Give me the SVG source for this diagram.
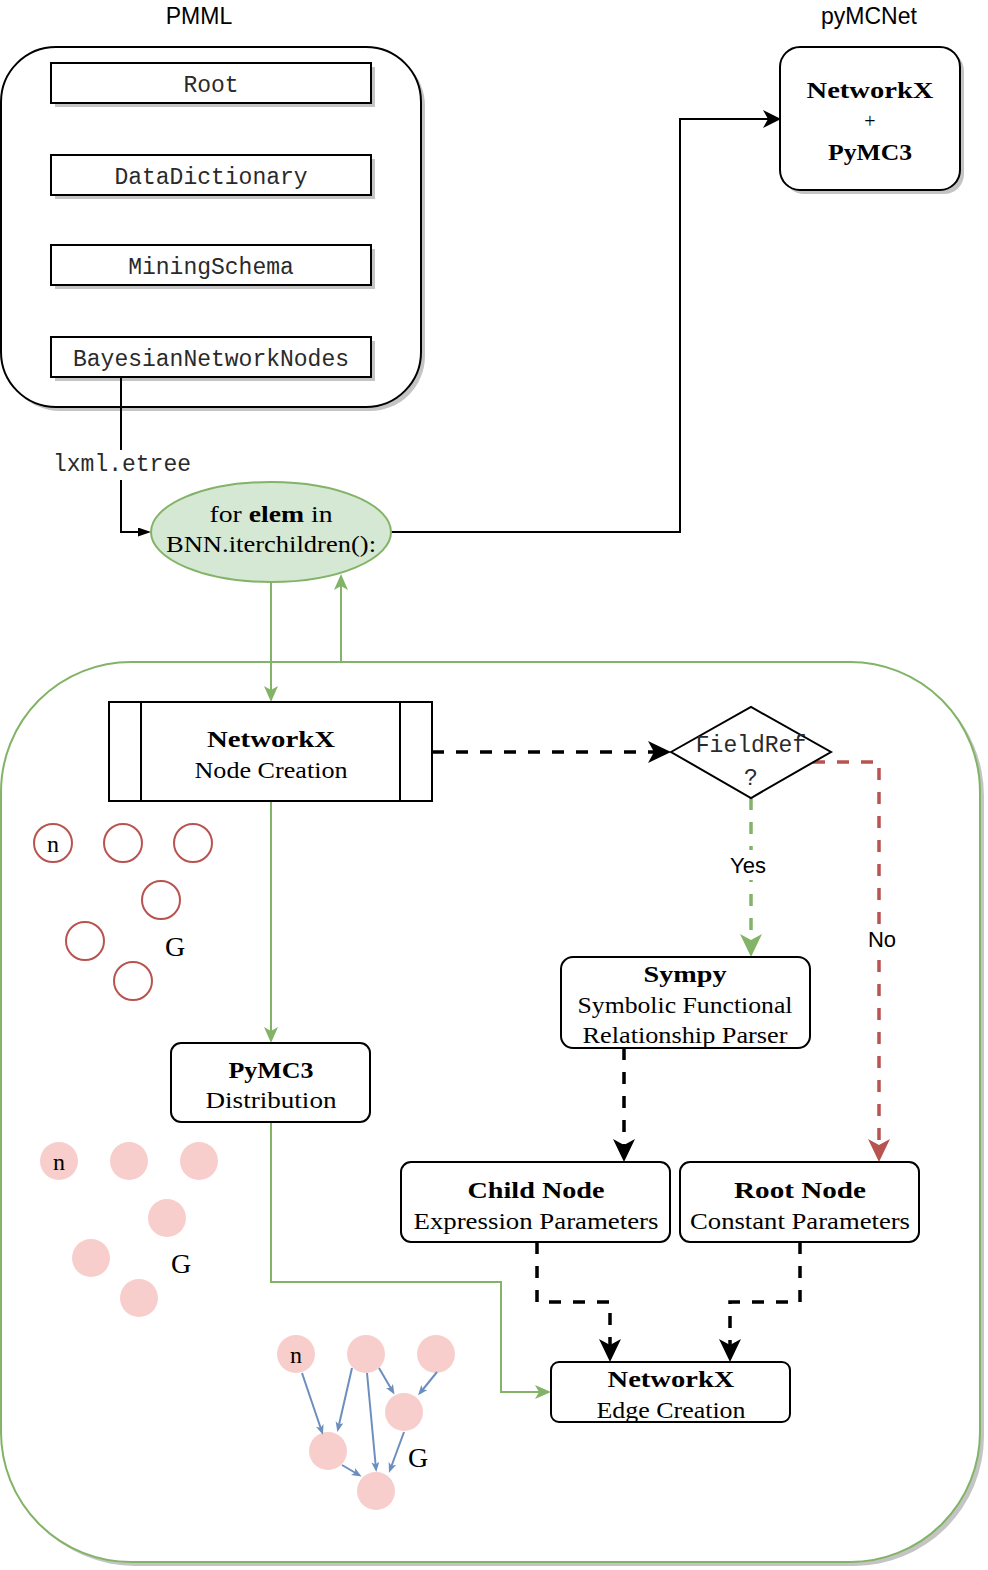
<svg xmlns="http://www.w3.org/2000/svg" width="988" height="1570" viewBox="0 0 988 1570">
<style>
.mono{font-family:"Liberation Mono","Courier New",monospace;font-size:23px;fill:#2a2a2a}
.serif{font-family:"Liberation Serif","Times New Roman",serif;font-size:24px;fill:#000}
.big{font-size:28px}
.plus{font-size:20px}
.b{font-weight:bold}
.sans{font-family:"Liberation Sans",Arial,sans-serif;fill:#000}
.box{fill:#fff;stroke:#000;stroke-width:2}
.shadow{fill:#c4c4c4}
.dash{fill:none;stroke-width:3.5;stroke-dasharray:12 12}
.solid{fill:none;stroke-width:2}
.red{fill:none;stroke:#b85450;stroke-width:2}
.pink{fill:#f8cecc;stroke:none}
.blue{stroke:#6c8ebf;stroke-width:2;fill:none}
</style>
<defs>
<marker id="aBlk" markerUnits="userSpaceOnUse" markerWidth="20" markerHeight="20" refX="13" refY="9" orient="auto"><path d="M0,0 L18,9 L0,18 L5,9 z" fill="#000"/></marker>
<marker id="aBlkSm" markerUnits="userSpaceOnUse" markerWidth="14" markerHeight="10" refX="10" refY="4.5" orient="auto"><path d="M0,0 L13,4.5 L0,9 z" fill="#000"/></marker>
<marker id="aGrn" markerUnits="userSpaceOnUse" markerWidth="18" markerHeight="16" refX="11" refY="7" orient="auto"><path d="M0,0 L16,7 L0,14 L4,7 z" fill="#82b366"/></marker>
<marker id="aDBlk" markerUnits="userSpaceOnUse" markerWidth="24" markerHeight="24" refX="15" refY="11" orient="auto"><path d="M0,0 L23,11 L0,22 L6,11 z" fill="#000"/></marker>
<marker id="aDGrn" markerUnits="userSpaceOnUse" markerWidth="24" markerHeight="24" refX="15" refY="11" orient="auto"><path d="M0,0 L23,11 L0,22 L6,11 z" fill="#82b366"/></marker>
<marker id="aDRed" markerUnits="userSpaceOnUse" markerWidth="24" markerHeight="24" refX="15" refY="11" orient="auto"><path d="M0,0 L23,11 L0,22 L6,11 z" fill="#b85450"/></marker>
<marker id="aBlue" markerUnits="userSpaceOnUse" markerWidth="12" markerHeight="10" refX="7" refY="4" orient="auto"><path d="M0,0 L10,4 L0,8 L2.5,4 z" fill="#6c8ebf"/></marker>
</defs>
<rect width="988" height="1570" fill="#fff"/>

<!-- titles -->
<text class="sans" x="199" y="24" font-size="23" text-anchor="middle">PMML</text>
<text class="sans" x="869" y="24" font-size="23" text-anchor="middle">pyMCNet</text>

<!-- PMML container -->
<g id="pmml">
<rect class="shadow" x="5" y="51" width="420" height="360" rx="55"/>
<rect class="box" x="1" y="47" width="420" height="360" rx="55"/>
</g>
<g id="root">
<rect class="shadow" x="55" y="67" width="320" height="40"/>
<rect class="box" x="51" y="63" width="320" height="40"/>
<text class="mono" x="211" y="92" text-anchor="middle">Root</text>
</g>
<g id="datadictionary">
<rect class="shadow" x="55" y="159" width="320" height="40"/>
<rect class="box" x="51" y="155" width="320" height="40"/>
<text class="mono" x="211" y="184" text-anchor="middle">DataDictionary</text>
</g>
<g id="miningschema">
<rect class="shadow" x="55" y="249" width="320" height="40"/>
<rect class="box" x="51" y="245" width="320" height="40"/>
<text class="mono" x="211" y="274" text-anchor="middle">MiningSchema</text>
</g>
<g id="bnn">
<rect class="shadow" x="55" y="341" width="320" height="40"/>
<rect class="box" x="51" y="337" width="320" height="40"/>
<text class="mono" x="211" y="366" text-anchor="middle">BayesianNetworkNodes</text>
</g>

<!-- pyMCNet box -->
<g id="pymcnet">
<rect class="shadow" x="784" y="51" width="180" height="143" rx="20"/>
<rect class="box" x="780" y="47" width="180" height="143" rx="20"/>
<text class="serif b" x="870" y="98" text-anchor="middle" textLength="127" lengthAdjust="spacingAndGlyphs">NetworkX</text>
<text class="serif plus" x="870" y="128" text-anchor="middle">+</text>
<text class="serif b" x="870" y="160" text-anchor="middle" textLength="84" lengthAdjust="spacingAndGlyphs">PyMC3</text>
</g>

<!-- green container -->
<g id="container">
<rect class="shadow" x="5" y="666" width="979" height="900" rx="130"/>
<rect x="1" y="662" width="979" height="900" rx="130" fill="#fff" stroke="#82b366" stroke-width="2"/>
</g>

<!-- connectors -->
<g id="connectors">
<path class="solid" stroke="#000" d="M121,377 V532 H148" marker-end="url(#aBlkSm)"/>
<path class="solid" stroke="#000" d="M391,532 H680 V119 H776" marker-end="url(#aBlk)"/>
<path class="solid" stroke="#82b366" d="M271,583 V697" marker-end="url(#aGrn)"/>
<path class="solid" stroke="#82b366" d="M341,662 V579" marker-end="url(#aGrn)"/>
<path class="solid" stroke="#82b366" d="M271,801 V1038" marker-end="url(#aGrn)"/>
<path class="solid" stroke="#82b366" d="M271,1122 V1282 H501 V1392 H546" marker-end="url(#aGrn)"/>
<path class="dash" stroke="#000" d="M432,752 H663" marker-end="url(#aDBlk)"/>
<path class="dash" stroke="#82b366" d="M751,798 V949" marker-end="url(#aDGrn)"/>
<path class="dash" stroke="#b85450" d="M813,762 H879 V1154" marker-end="url(#aDRed)"/>
<path class="dash" stroke="#000" d="M624,1048 V1154" marker-end="url(#aDBlk)"/>
<path class="dash" stroke="#000" d="M537,1242 V1302 H610 V1354" marker-end="url(#aDBlk)"/>
<path class="dash" stroke="#000" d="M800,1242 V1302 H730 V1354" marker-end="url(#aDBlk)"/>
<rect x="52" y="450" width="142" height="30" fill="#fff"/>
<text class="mono" x="122" y="471" text-anchor="middle">lxml.etree</text>
<rect x="728" y="850" width="42" height="30" fill="#fff"/>
<text class="sans" x="748" y="873" font-size="22" text-anchor="middle">Yes</text>
<rect x="866" y="925" width="32" height="30" fill="#fff"/>
<text class="sans" x="882" y="947" font-size="22" text-anchor="middle">No</text>
</g>

<!-- loop ellipse -->
<g id="loop">
<ellipse cx="271" cy="532" rx="120" ry="50" fill="#d5e8d4" stroke="#82b366" stroke-width="2"/>
<text class="serif" x="271" y="522" text-anchor="middle" textLength="123" lengthAdjust="spacingAndGlyphs">for <tspan font-weight="bold">elem</tspan> in</text>
<text class="serif" x="271" y="552" text-anchor="middle" textLength="210" lengthAdjust="spacingAndGlyphs">BNN.iterchildren():</text>
</g>

<!-- Node creation -->
<g id="nodecreation">
<rect class="box" x="109" y="702" width="323" height="99"/>
<line x1="141" y1="702" x2="141" y2="801" stroke="#000" stroke-width="2"/>
<line x1="400" y1="702" x2="400" y2="801" stroke="#000" stroke-width="2"/>
<text class="serif b" x="271" y="747" text-anchor="middle" textLength="128" lengthAdjust="spacingAndGlyphs">NetworkX</text>
<text class="serif" x="271" y="778" text-anchor="middle" textLength="153" lengthAdjust="spacingAndGlyphs">Node Creation</text>
</g>

<!-- decision -->
<g id="fieldref">
<polygon points="671,752 751,707 831,752 751,798" fill="#fff" stroke="#000" stroke-width="2"/>
<text class="mono" x="751" y="752" text-anchor="middle">FieldRef</text>
<text class="mono" x="751" y="785" text-anchor="middle">?</text>
</g>

<!-- Sympy -->
<g id="sympy">
<rect class="box" x="561" y="957" width="249" height="91" rx="12"/>
<text class="serif b" x="685" y="982" text-anchor="middle" textLength="83" lengthAdjust="spacingAndGlyphs">Sympy</text>
<text class="serif" x="685" y="1013" text-anchor="middle" textLength="215" lengthAdjust="spacingAndGlyphs">Symbolic Functional</text>
<text class="serif" x="685" y="1043" text-anchor="middle" textLength="205" lengthAdjust="spacingAndGlyphs">Relationship Parser</text>
</g>

<!-- PyMC3 distribution -->
<g id="pymc3dist">
<rect class="box" x="171" y="1043" width="199" height="79" rx="10"/>
<text class="serif b" x="271" y="1078" text-anchor="middle" textLength="85" lengthAdjust="spacingAndGlyphs">PyMC3</text>
<text class="serif" x="271" y="1108" text-anchor="middle" textLength="131" lengthAdjust="spacingAndGlyphs">Distribution</text>
</g>

<!-- Child node -->
<g id="childnode">
<rect class="box" x="401" y="1162" width="269" height="80" rx="10"/>
<text class="serif b" x="536" y="1198" text-anchor="middle" textLength="137" lengthAdjust="spacingAndGlyphs">Child Node</text>
<text class="serif" x="536" y="1229" text-anchor="middle" textLength="245" lengthAdjust="spacingAndGlyphs">Expression Parameters</text>
</g>

<!-- Root node -->
<g id="rootnode">
<rect class="box" x="680" y="1162" width="239" height="80" rx="10"/>
<text class="serif b" x="800" y="1198" text-anchor="middle" textLength="132" lengthAdjust="spacingAndGlyphs">Root Node</text>
<text class="serif" x="800" y="1229" text-anchor="middle" textLength="220" lengthAdjust="spacingAndGlyphs">Constant Parameters</text>
</g>

<!-- Edge creation -->
<g id="edgecreation">
<rect class="box" x="551" y="1362" width="239" height="60" rx="8"/>
<text class="serif b" x="671" y="1387" text-anchor="middle" textLength="127" lengthAdjust="spacingAndGlyphs">NetworkX</text>
<text class="serif" x="671" y="1418" text-anchor="middle" textLength="149" lengthAdjust="spacingAndGlyphs">Edge Creation</text>
</g>

<!-- empty graph G (outline) -->
<g id="graph-empty">
<circle class="red" cx="53" cy="843" r="19"/>
<circle class="red" cx="123" cy="843" r="19"/>
<circle class="red" cx="193" cy="843" r="19"/>
<circle class="red" cx="161" cy="900" r="19"/>
<circle class="red" cx="85" cy="941" r="19"/>
<circle class="red" cx="133" cy="981" r="19"/>
<text class="serif" x="53" y="852" text-anchor="middle">n</text>
<text class="serif big" x="175" y="956" text-anchor="middle">G</text>
</g>

<!-- graph with distributions -->
<g id="graph-dist">
<circle class="pink" cx="59" cy="1161" r="19"/>
<circle class="pink" cx="129" cy="1161" r="19"/>
<circle class="pink" cx="199" cy="1161" r="19"/>
<circle class="pink" cx="167" cy="1218" r="19"/>
<circle class="pink" cx="91" cy="1258" r="19"/>
<circle class="pink" cx="139" cy="1298" r="19"/>
<text class="serif" x="59" y="1170" text-anchor="middle">n</text>
<text class="serif big" x="181" y="1273" text-anchor="middle">G</text>
</g>

<!-- graph with edges -->
<g id="graph-edges">
<circle class="pink" cx="296" cy="1354" r="19"/>
<circle class="pink" cx="366" cy="1354" r="19"/>
<circle class="pink" cx="436" cy="1354" r="19"/>
<circle class="pink" cx="404" cy="1412" r="19"/>
<circle class="pink" cx="328" cy="1451" r="19"/>
<circle class="pink" cx="376" cy="1491" r="19"/>
<text class="serif" x="296" y="1363" text-anchor="middle">n</text>
<text class="serif big" x="418" y="1467" text-anchor="middle">G</text>
<g id="graph-edge-lines">
<path class="blue" d="M302,1373 L322,1432" marker-end="url(#aBlue)"/>
<path class="blue" d="M352,1368 L338,1429" marker-end="url(#aBlue)"/>
<path class="blue" d="M367,1373 L376,1469" marker-end="url(#aBlue)"/>
<path class="blue" d="M379,1368 L393,1392" marker-end="url(#aBlue)"/>
<path class="blue" d="M437,1372 L420,1393" marker-end="url(#aBlue)"/>
<path class="blue" d="M342,1465 L359,1475" marker-end="url(#aBlue)"/>
<path class="blue" d="M404,1432 L390,1470" marker-end="url(#aBlue)"/>
</g>
</g>
</svg>
